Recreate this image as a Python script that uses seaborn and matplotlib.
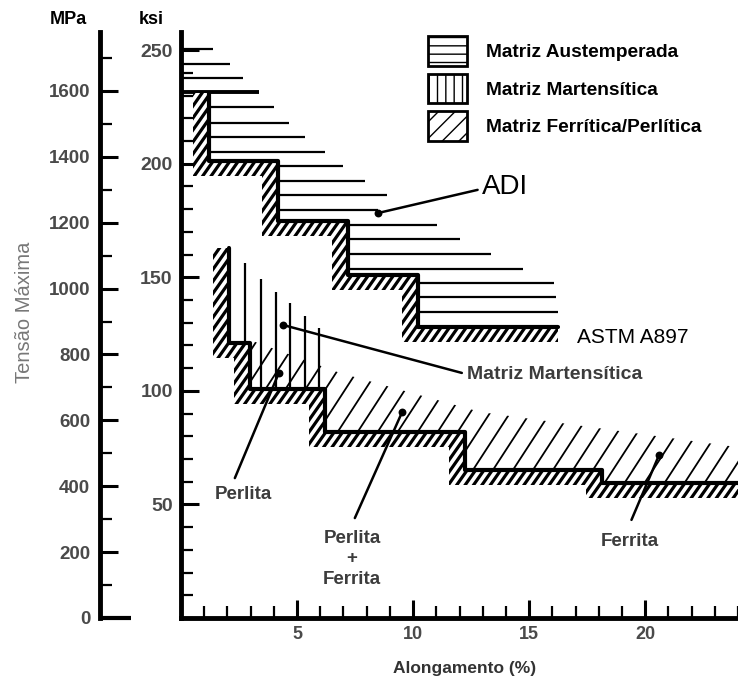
import numpy as np
import matplotlib
matplotlib.use("Agg")
import matplotlib.pyplot as plt
from matplotlib.patches import Polygon, Patch
from matplotlib.collections import LineCollection
from matplotlib.ticker import MultipleLocator
import seaborn as sns

# Tensile strength (ksi) versus elongation (%) for ductile iron matrices

# ADI lower boundary (ASTM A897 minimums): staircase corners
adi_step_x = [1.2, 4.2, 7.2, 10.2, 16.25]
adi_step_ksi = [231, 201, 175, 151, 128]

# Austempered field: horizontal rule levels and their right ends
adi_rule_ksi = [250.5, 243.9, 237.8, 231.6, 225.0, 218.0, 211.8, 205.2, 199.0, 192.4,
                186.3, 179.7, 173.1, 166.9, 160.3, 153.7, 147.5, 141.3, 134.7]
adi_rule_end = [1.38, 2.11, 2.67, 3.36, 4.0, 4.66, 5.34, 6.2, 6.98, 7.93,
                8.88, 8.5, 11.03, 12.03, 13.36, 14.74, 16.08, 16.16, 16.25]

# Martensitic / ferritic-pearlitic lower boundary: staircase corners
base_step_x = [2.07, 2.97, 6.2, 12.24, 18.15, 24.5]
base_step_ksi = [163, 121, 101, 82, 65, 59.5]

# Martensitic field: vertical rules and their tops
mart_rule_x = [2.76, 3.45, 4.09, 4.7, 5.34, 5.95]
mart_rule_top = [156.3, 149.3, 143.5, 138.7, 133.0, 127.7]

# Upper edge of the ferritic/pearlitic field
ferr_top_x = [2.97, 6.85, 12.9, 24.5]
ferr_top_ksi = [122.4, 107.9, 90.7, 74.5]

# Callout points
callout_text = ["ADI", "Matriz Martensítica", "Perlita", "Perlita\n+\nFerrita", "Ferrita"]
callout_x = [8.49, 4.4, 4.22, 9.53, 20.6]
callout_ksi = [178.3, 129, 108, 90.7, 71.8]

legend_labels = ["Matriz Austemperada", "Matriz Martensítica", "Matriz Ferrítica/Perlítica"]

x_ticks = [5, 10, 15, 20]
ksi_ticks = [50, 100, 150, 200, 250]
mpa_ticks = [0, 200, 400, 600, 800, 1000, 1200, 1400, 1600]
KSI_TO_MPA = 6.894757

# ---------------------------------------------------------------------------
sns.set_theme(style="white")
plt.rcParams["font.family"] = ["Liberation Sans", "DejaVu Sans"]
plt.rcParams["hatch.color"] = "black"

W, H = 738, 691
AX_L, AX_B, AX_W, AX_H = 181, 73, W - 181, 586
XMAX, YMAX = 24.0, 258
fig = plt.figure(figsize=(W / 100, H / 100), dpi=100)
fig.patch.set_facecolor("white")
ax = fig.add_axes([AX_L / W, AX_B / H, AX_W / W, AX_H / H])
ax.set_facecolor("white")
ax.set_xlim(0, XMAX)
ax.set_ylim(0, YMAX)
PX_X = AX_W / XMAX   # pixels per % elongation
PX_Y = AX_H / YMAX   # pixels per ksi

BAND_DX, BAND_DY = 0.69, 6.6


def stair_points(xs, ys):
    pts = [(xs[0], ys[0])]
    for i in range(1, len(xs)):
        pts.append((xs[i - 1], ys[i]))
        pts.append((xs[i], ys[i]))
    return np.array(pts, dtype=float)


def band_polygon(xs, ys):
    inner = stair_points(xs, ys)
    outer = inner - np.array([BAND_DX, BAND_DY])
    outer[0, 1] = inner[0, 1]
    outer[-1, 0] = inner[-1, 0]
    return np.vstack([inner, outer[::-1]])


def step_value(xs, ys, x):
    for i in range(1, len(xs)):
        if x < xs[i]:
            return ys[i]
    return ys[-1]


def striped(poly, spacing_px, angle_deg, lw, z, face="none"):
    """Fill a polygon with slanted parallel strokes clipped to its outline."""
    patch = Polygon(poly, closed=True, facecolor=face, edgecolor="none",
                    linewidth=0, zorder=z)
    ax.add_patch(patch)
    rise = np.tan(np.radians(angle_deg)) * PX_X / PX_Y   # ksi per % along a stroke
    gap = spacing_px / PX_X
    starts = np.arange(-20.0, XMAX + 2.0, gap)
    segs = [[(x0, 0.0), (x0 + YMAX / rise, YMAX)] for x0 in starts]
    lc = LineCollection(segs, colors="black", linewidths=lw, zorder=z,
                        capstyle="butt")
    ax.add_collection(lc, autolim=False)
    lc.set_clip_path(patch)
    return patch


# ferritic / pearlitic field
base_pts = stair_points(base_step_x, base_step_ksi)
lower = base_pts[base_pts[:, 0] >= ferr_top_x[0] - 1e-9]
lower = lower[lower[:, 1] < ferr_top_ksi[0]]
ferr_poly = np.vstack([np.column_stack([ferr_top_x, ferr_top_ksi]), lower[::-1]])
striped(ferr_poly, 20, 57, 1.3, 1)

# martensitic field
mart_bottom = [step_value(base_step_x, base_step_ksi, x) for x in mart_rule_x]
ax.vlines(mart_rule_x, mart_bottom, mart_rule_top, colors="black", linewidth=1.6, zorder=2)

# austempered field
adi_start = []
for y in adi_rule_ksi:
    if y >= adi_step_ksi[0]:
        adi_start.append(0.0)
    else:
        idx = max(i for i in range(len(adi_step_ksi)) if adi_step_ksi[i] > y)
        adi_start.append(adi_step_x[idx])
# the rule sitting on top of the first step is drawn heavier
rule_widths = [2.8 if abs(y - adi_step_ksi[0]) < 3 else 1.6 for y in adi_rule_ksi]
ax.hlines(adi_rule_ksi, adi_start, adi_rule_end, colors="black",
          linewidth=rule_widths, zorder=2)

# heavy hatched borders
striped(band_polygon(adi_step_x, adi_step_ksi), 8.4, 55, 2.3, 3, face="white")
striped(band_polygon(base_step_x, base_step_ksi), 8.4, 55, 2.3, 3, face="white")

sns.lineplot(x=adi_step_x, y=adi_step_ksi, drawstyle="steps-pre", estimator=None,
             sort=False, color="black", linewidth=3.0, ax=ax, zorder=4)
sns.lineplot(x=base_step_x, y=base_step_ksi, drawstyle="steps-pre", estimator=None,
             sort=False, color="black", linewidth=3.0, ax=ax, zorder=4)

# callouts
sns.scatterplot(x=callout_x, y=callout_ksi, color="black", s=32, linewidth=0,
                ax=ax, zorder=6)
leader_ends = [(12.78, 188.5), (12.1, 107.9), (2.32, 61.6), (7.49, 44.0), (19.41, 43.2)]
text_pos = [(12.97, 189.8), (12.33, 107.0), (2.67, 54.2), (7.37, 26.0), (19.35, 33.5)]
text_style = [
    dict(ha="left", va="center", fontsize=20, color="black"),
    dict(ha="left", va="center", fontsize=14, fontweight="bold", color="#3c3c3c"),
    dict(ha="center", va="center", fontsize=13.5, fontweight="bold", color="#3c3c3c"),
    dict(ha="center", va="center", fontsize=13.5, fontweight="bold", color="#3c3c3c",
         linespacing=1.25),
    dict(ha="center", va="center", fontsize=13.5, fontweight="bold", color="#3c3c3c"),
]
for txt, px, py, end, pos, st in zip(callout_text, callout_x, callout_ksi,
                                      leader_ends, text_pos, text_style):
    ax.annotate("", xy=(px, py), xytext=end,
                arrowprops=dict(arrowstyle="-", color="black", lw=1.8,
                                shrinkA=0, shrinkB=0), zorder=5)
    ax.text(pos[0], pos[1], txt, zorder=6, **st)

ax.text(17.07, 123.3, "ASTM A897", ha="left", va="center", fontsize=15, color="black")

# axes styling
sns.despine(ax=ax)
for side in ("left", "bottom"):
    ax.spines[side].set_linewidth(3.5)
    ax.spines[side].set_color("black")
label_color = "#4a4a4a"
ax.set_xticks(x_ticks, [str(v) for v in x_ticks], fontweight="bold",
              fontsize=13, color=label_color)
ax.set_yticks(ksi_ticks, [str(v) for v in ksi_ticks], fontweight="bold",
              fontsize=14, color=label_color)
ax.xaxis.set_minor_locator(MultipleLocator(1))
ax.yaxis.set_minor_locator(MultipleLocator(10))
ax.tick_params(which="major", direction="in", length=13, width=2.2, color="black", pad=6)
ax.tick_params(which="minor", direction="in", length=8.5, width=1.6, color="black")
ax.tick_params(axis="y", which="both", left=True)
ax.tick_params(axis="x", which="both", bottom=True)

sec = ax.secondary_yaxis((100 - AX_L) / AX_W,
                         functions=(lambda k: k * KSI_TO_MPA, lambda m: m / KSI_TO_MPA))
sec.set_yticks(mpa_ticks, [str(v) for v in mpa_ticks], fontweight="bold",
               fontsize=13.5, color=label_color)
sec.yaxis.set_minor_locator(MultipleLocator(100))
sec.spines["left"].set_linewidth(3.5)
sec.spines["left"].set_color("black")
sec.tick_params(which="major", direction="in", length=13, width=2.2, color="black", pad=7)
sec.tick_params(which="minor", direction="in", length=8.5, width=1.6, color="black")
# the zero mark of the MPa scale runs out further as a base line
zero_tick = sec.yaxis.get_major_ticks()[0]
zero_tick.tick1line.set_markersize(22)
zero_tick.tick1line.set_markeredgewidth(3.0)

fig.text(68 / W, 1 - 20 / H, "MPa", ha="center", va="center", fontsize=13,
         fontweight="bold", color="black")
fig.text(151 / W, 1 - 20 / H, "ksi", ha="center", va="center", fontsize=13,
         fontweight="bold", color="black")
fig.text(25 / W, 1 - 312 / H, "Tensão Máxima", ha="center", va="center", rotation=90,
         fontsize=14.5, color="#777777")
fig.text(465 / W, 1 - 668 / H, "Alongamento (%)", ha="center", va="center",
         fontsize=12.5, fontweight="bold", color="#333333")

# legend
handles = []
for hatch in ("--", "||", "//"):
    with plt.rc_context({"hatch.linewidth": 1.3}):
        h = Patch(facecolor="white", edgecolor="black", hatch=hatch, linewidth=2)
    if hasattr(h, "set_hatch_linewidth"):
        h.set_hatch_linewidth(1.3)
    handles.append(h)
leg = ax.legend(handles, legend_labels, loc="upper left",
                bbox_to_anchor=(428 / W, 1 - 36 / H), bbox_transform=fig.transFigure,
                frameon=False, borderpad=0, borderaxespad=0,
                handlelength=2.05, handleheight=2.0, labelspacing=0.42,
                handletextpad=1.0,
                prop=dict(family=["Liberation Sans", "DejaVu Sans"], weight="bold", size=13.8))
for t in leg.get_texts():
    t.set_color("black")

fig.savefig("out.png", dpi=100, facecolor="white")
